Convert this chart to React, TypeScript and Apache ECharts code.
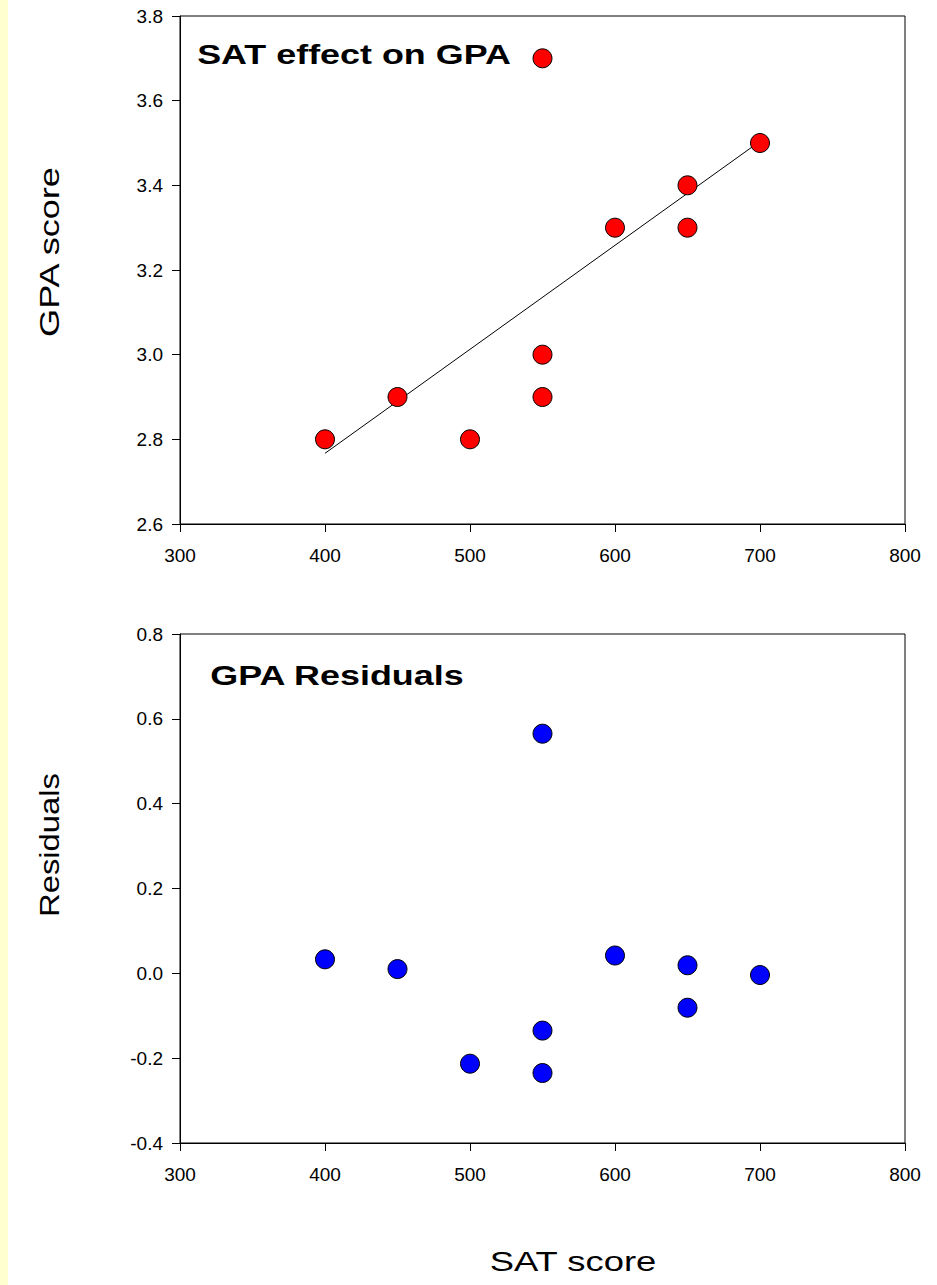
import React, { useEffect, useRef } from "react";
import * as echarts from "echarts";

const satScores = [400, 450, 500, 550, 550, 550, 600, 650, 650, 700];
const gpaScores = [2.8, 2.9, 2.8, 2.9, 3.0, 3.7, 3.3, 3.3, 3.4, 3.5];
const residuals = [0.033, 0.01, -0.213, -0.235, -0.135, 0.565, 0.042, -0.081, 0.019, -0.004];
const fitLine = [
  [400, 2.767],
  [700, 3.504],
];
const xTicks = { min: 300, max: 800, interval: 100 };
const gpaTicks = { min: 2.6, max: 3.8, interval: 0.2 };
const residTicks = { min: -0.4, max: 0.8, interval: 0.2 };
const titles = ["SAT effect on GPA", "GPA Residuals"];
const axisNames = { x: "SAT score", y1: "GPA score", y2: "Residuals" };

const FONT = '"Liberation Sans", Arial, sans-serif';

export default function App() {
  const ref = useRef<HTMLDivElement>(null);
  useEffect(() => {
    if (!ref.current) return;
    const chart = echarts.init(ref.current, null, { renderer: "svg" });
    const xAxisBase = (gridIndex: number) => ({
      type: "value",
      gridIndex,
      min: xTicks.min,
      max: xTicks.max,
      interval: xTicks.interval,
      axisLine: { show: true, onZero: false, lineStyle: { color: "#000", width: 1 } },
      axisTick: { show: true, inside: false, length: 8, lineStyle: { color: "#000", width: 1 } },
      axisLabel: { color: "#000", fontSize: 19, fontFamily: FONT, margin: 22 },
      splitLine: { show: false },
    });
    const yAxisBase = (gridIndex: number, t: { min: number; max: number; interval: number }) => ({
      type: "value",
      gridIndex,
      min: t.min,
      max: t.max,
      interval: t.interval,
      axisLine: { show: true, onZero: false, lineStyle: { color: "#000", width: 1 } },
      axisTick: { show: true, inside: false, length: 8, lineStyle: { color: "#000", width: 1 } },
      axisLabel: {
        color: "#000",
        fontSize: 19,
        fontFamily: FONT,
        margin: 17,
        formatter: (v: number) => v.toFixed(1),
      },
      splitLine: { show: false },
    });
    chart.setOption({
      animation: false,
      backgroundColor: "#fff",
      grid: [
        { left: 180, top: 16, width: 725, height: 508, show: true, borderColor: "#000", borderWidth: 1, backgroundColor: "transparent" },
        { left: 180, top: 634, width: 725, height: 509, show: true, borderColor: "#000", borderWidth: 1, backgroundColor: "transparent" },
      ],
      xAxis: [xAxisBase(0), xAxisBase(1)],
      yAxis: [yAxisBase(0, gpaTicks), yAxisBase(1, residTicks)],
      series: [
        {
          type: "line",
          xAxisIndex: 0,
          yAxisIndex: 0,
          data: fitLine,
          symbol: "none",
          lineStyle: { color: "#000", width: 1 },
          z: 2,
        },
        {
          type: "scatter",
          xAxisIndex: 0,
          yAxisIndex: 0,
          data: satScores.map((x, i) => [x, gpaScores[i]]),
          symbol: "circle",
          symbolSize: 19,
          itemStyle: { color: "#ff0000", borderColor: "#000", borderWidth: 1, opacity: 1 },
          z: 3,
        },
        {
          type: "scatter",
          xAxisIndex: 1,
          yAxisIndex: 1,
          data: satScores.map((x, i) => [x, residuals[i]]),
          symbol: "circle",
          symbolSize: 19,
          itemStyle: { color: "#0000ff", borderColor: "#000", borderWidth: 1, opacity: 1 },
          z: 3,
        },
      ],
      graphic: [
        { type: "rect", left: 0, top: 0, shape: { x: 0, y: 0, width: 8, height: 1285 }, style: { fill: "#FFFFD0" }, silent: true },
        {
          type: "text",
          x: 354,
          y: 55,
          scaleX: 1.33,
          style: { text: titles[0], fontSize: 27, fontWeight: "bold", fontFamily: FONT, fill: "#000", align: "center", verticalAlign: "middle" },
        },
        {
          type: "text",
          x: 337,
          y: 676,
          scaleX: 1.33,
          style: { text: titles[1], fontSize: 27, fontWeight: "bold", fontFamily: FONT, fill: "#000", align: "center", verticalAlign: "middle" },
        },
        {
          type: "text",
          x: 49,
          y: 252,
          rotation: Math.PI / 2,
          scaleX: 1.29,
          style: { text: axisNames.y1, fontSize: 28, fontFamily: FONT, fill: "#000", align: "center", verticalAlign: "middle" },
        },
        {
          type: "text",
          x: 49,
          y: 845,
          rotation: Math.PI / 2,
          scaleX: 1.17,
          style: { text: axisNames.y2, fontSize: 28, fontFamily: FONT, fill: "#000", align: "center", verticalAlign: "middle" },
        },
        {
          type: "text",
          x: 573,
          y: 1262,
          scaleX: 1.3,
          style: { text: axisNames.x, fontSize: 28, fontFamily: FONT, fill: "#000", align: "center", verticalAlign: "middle" },
        },
      ],
    });
    return () => chart.dispose();
  }, []);
  return (
    <div
      ref={ref}
      style={{ position: "absolute", left: 0, top: 0, width: 937, height: 1285 }}
    />
  );
}
